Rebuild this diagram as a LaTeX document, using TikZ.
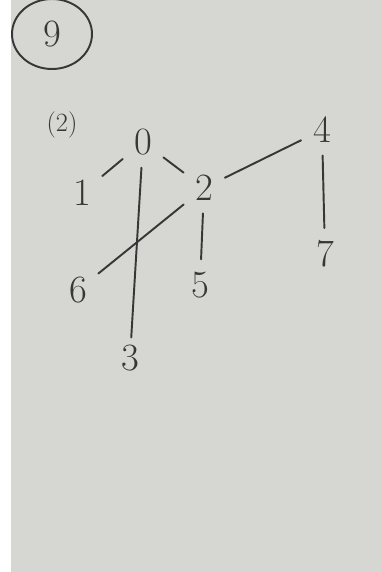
\documentclass[tikz,border=0pt]{standalone}
\usetikzlibrary{shapes.geometric}
\definecolor{paper}{RGB}{214,214,211}
\definecolor{pencil}{RGB}{55,55,55}
\tikzset{
    vertex/.style={text=pencil, font=\fontsize{22}{26}\selectfont, inner sep=4pt},
    edge/.style={draw=pencil, line width=1.1pt, line cap=round, shorten <=3pt, shorten >=3pt}
}

\begin{document}
\begin{tikzpicture}[x=0.02cm, y=-0.02cm]
    \fill[white] (0,0) rectangle (382,572);
    \fill[paper] (11,0) rectangle (382,572);
    \useasboundingbox (0,0) rectangle (382,572);

    \node (nine) [ellipse, draw=pencil, line width=1.1pt, minimum width=1.6cm, minimum height=1.4cm, vertex] at (52,34) {9};
    \node (note) [text=pencil, font=\fontsize{15}{17}\selectfont] at (62,125) {(2)};

    \node (n0) [vertex] at (143,142) {0};
    \node (n1) [vertex] at (82,193) {1};
    \node (n2) [vertex] at (204,188) {2};
    \node (n4) [vertex] at (322,130) {4};
    \node (n7) [vertex] at (325,254) {7};
    \node (n6) [vertex] at (78,290) {6};
    \node (n5) [vertex] at (200,285) {5};
    \node (n3) [vertex] at (130,358) {3};

    \draw [edge] (n0) -- (n1);
    \draw [edge] (n0) -- (n2);
    \draw [edge, shorten >=0pt] (n0) -- (n3);
    \draw [edge] (n2) -- (n4);
    \draw [edge] (n4) -- (n7);
    \draw [edge] (n2) -- (n5);
    \draw [edge] (n2) -- (n6);
\end{tikzpicture}
\end{document}
